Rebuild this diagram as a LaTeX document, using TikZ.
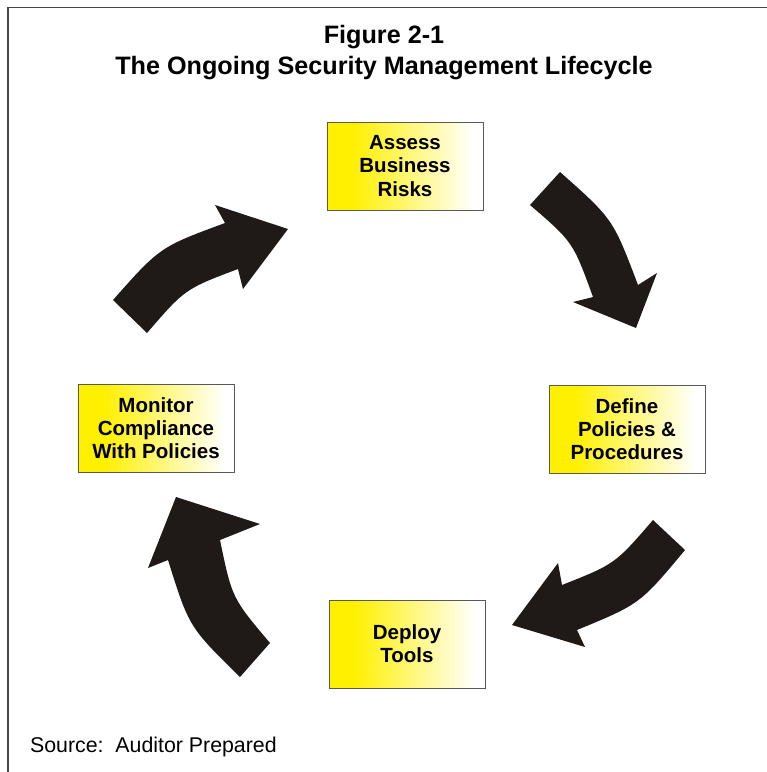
\documentclass[tikz,border=0pt]{standalone}
\usepackage{fontspec}
\setmainfont{Liberation Sans}
\usetikzlibrary{positioning}

\definecolor{boxyellow}{RGB}{255,240,0}
\definecolor{arrowfill}{RGB}{31,26,23}
\definecolor{framegray}{RGB}{70,70,70}
\pgfdeclarehorizontalshading{yellowfade}{100bp}{color(0bp)=(boxyellow); color(33bp)=(boxyellow); color(72bp)=(white); color(100bp)=(white)}

\begin{document}
\begin{tikzpicture}[x=0.03cm, y=-0.03cm,
    stage/.style={draw=gray!70!black, line width=0.6pt, shading=yellowfade, minimum width=4.68cm, minimum height=2.64cm, inner sep=0pt, align=center, font=\fontsize{17.5}{19.9}\selectfont\bfseries},
    bigarrow/.style={fill=arrowfill}]
      \useasboundingbox (0,0) rectangle (767,772);

      % Frame
      \draw[framegray, line width=1.4pt] (8,772) -- (8,7.5) -- (767,7.5);

      % Title and source
      \node[align=center, font=\fontsize{21.5}{26.5}\selectfont\bfseries] (title) at (384,53) {Figure 2-1\\The Ongoing Security Management Lifecycle};
      \node[anchor=base west, font=\fontsize{18.2}{22}\selectfont] (source) at (26,752) {Source:~~Auditor Prepared};

      % Nodes
      \node[stage] (assess) at (405,166) {Assess\\Business\\Risks};
      \node[stage] (define) at (627,429) {Define\\Policies \&\\Procedures};
      \node[stage] (deploy) at (407,644) {Deploy\\Tools};
      \node[stage] (monitor) at (156,428) {Monitor\\Compliance\\With Policies};

      % Arrows
      \fill[bigarrow] (113,300) .. controls (160,247) .. (225,223) -- (215,205) -- (288,229) -- (243,289) -- (238,269) .. controls (185,289) .. (147,333) -- cycle;
      \fill[bigarrow] (560,172) .. controls (613,219) .. (638,285) -- (657,273) -- (636,328) -- (573,302) -- (593,297) .. controls (573,242) .. (530,205) -- cycle;
      \fill[bigarrow] (685,550) .. controls (640,604) .. (577,630) -- (585,647) -- (512,625) -- (558,563) -- (562,585) .. controls (615,564) .. (653,520) -- cycle;
      \fill[bigarrow] (240,677) .. controls (189,627) .. (168,560) -- (148,568) -- (176,497) -- (260,524) -- (220,540) .. controls (232,598) .. (270,643) -- cycle;
\end{tikzpicture}
\end{document}
